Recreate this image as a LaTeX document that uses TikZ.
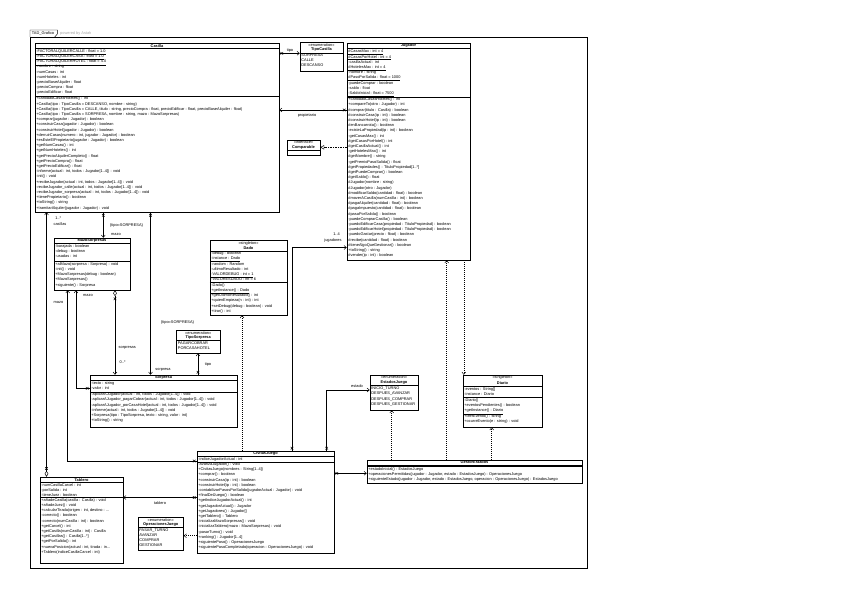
\documentclass[tikz,border=0pt]{standalone}
\usepackage{fontspec}
\setmainfont{Liberation Sans}
\usetikzlibrary{arrows.meta,fit,shadows,calc}
\newcommand\umltxt{\fontsize{3.9}{5.2}\selectfont\lineskiplimit=-10pt\relax}
\tikzset{
  box/.style={draw=black, line width=0.45pt, fill=white, inner sep=0pt,
    drop shadow={shadow xshift=0.9pt, shadow yshift=-0.9pt, fill=black!45, opacity=1}},
  txt/.style={inner sep=0pt, font=\umltxt, align=left, anchor=north west},
  ttl/.style={inner sep=0pt, font=\fontsize{3.9}{5.2}\selectfont\bfseries},
  ster/.style={inner sep=0pt, font=\fontsize{3.9}{5.2}\selectfont},
  lbl/.style={inner sep=0pt, font=\fontsize{3.9}{5.2}\selectfont},
  sep/.style={line width=0.4pt},
  assoc/.style={line width=0.45pt},
  nav/.style={-{Straight Barb[length=2.4pt,width=3.8pt]}},
  dep/.style={line width=0.45pt, dash pattern=on 1pt off 1pt, -{Straight Barb[length=2.4pt,width=3.8pt]}},
  real/.style={line width=0.45pt, dash pattern=on 1.5pt off 1pt, -{Triangle[open,length=4pt,width=4.4pt]}},
  aggr/.style={{Diamond[open,length=6pt,width=3.6pt]}-{Straight Barb[length=2.4pt,width=3.8pt]}},
  xm/.style={line width=0.45pt},
}
\newcommand\umlx[1]{\draw[xm] ($(#1)+(-1.3,-1.3)$) -- ($(#1)+(1.3,1.3)$) ($(#1)+(-1.3,1.3)$) -- ($(#1)+(1.3,-1.3)$);}
\begin{document}
\begin{tikzpicture}[x=1pt,y=-1pt]
\useasboundingbox (0,0) rectangle (848,599);
% frame
\draw[line width=0.45pt] (30,37) rectangle (587,568);
\draw[line width=0.45pt] (30,37) -- (30,30) -- (57.3,30) -- (57.3,34) -- (54.5,37.3);
\node[lbl] (tab) at (43,33.6) {TAD\_Grafico};
\node[lbl, text=black!35, anchor=west] (astah) at (60,33.6) {powered by Astah};

% ---------------- Casilla
\node[box, fit={(35,43)(279,212)}] (casilla) {};
\node[ttl] (casT) at (157,45.8) {Casilla};
\draw[sep] (casilla.west |- 0,48.5) -- (casilla.east |- 0,48.5);
\node[txt] (casA) at (36.2,49.3) {\underline{-FACTORALQUILERCALLE : float = 1.0}\\
\underline{-FACTORALQUILERCASA : float = 1.0}\\
\underline{-FACTORALQUILERHOTEL : float = 4.0}\\
-nombre : string\\
-numCasas : int\\
-numHoteles : int\\
-precioBaseAlquiler : float\\
-precioCompra : float\\
-precioEdificar : float};
\draw[sep] (casilla.west |- 0,96) -- (casilla.east |- 0,96);
\node[txt] (casM) at (36.2,96.8) {+cantidadCasasHoteles() : int\\
+Casilla(tipo : TipoCasilla = DESCANSO, nombre : string)\\
+Casilla(tipo : TipoCasilla = CALLE, titulo : string, precioCompra : float, precioEdificar : float, precioBaseAlquiler : float)\\
+Casilla(tipo : TipoCasilla = SORPRESA, nombre : string, mazo : MazoSorpresas)\\
+comprar(jugador : Jugador) : boolean\\
+construirCasa(jugador : Jugador) : boolean\\
+construirHotel(jugador : Jugador) : boolean\\
+derruirCasas(numero : int, jugador : Jugador) : boolean\\
+esEsteElPropietario(jugador : Jugador) : boolean\\
+getNumCasas() : int\\
+getNumHoteles() : int\\
+getPrecioAlquilerCompleto() : float\\
+getPrecioCompra() : float\\
+getPrecioEdificar() : float\\
-informe(actual : int, todos : Jugador[1..4]) : void\\
-init() : void\\
+recibeJugador(actual : int, todos : Jugador[1..4]) : void\\
-recibeJugador\_calle(actual : int, todos : Jugador[1..4]) : void\\
-recibeJugador\_sorpresa(actual : int, todos : Jugador[1..4]) : void\\
+tienePropietario() : boolean\\
+toString() : string\\
+tramitarAlquiler(jugador : Jugador) : void};

% ---------------- TipoCasilla
\node[box, fit={(300,42)(343,71.5)}] (tipocasilla) {};
\node[ster] (tcS) at (321.5,44.8) {«enumeration»};
\node[ttl] (tcT) at (321.5,49.6) {TipoCasilla};
\draw[sep] (tipocasilla.west |- 0,52.8) -- (tipocasilla.east |- 0,52.8);
\node[txt] (tcI) at (301.2,53.6) {SORPRESA\\CALLE\\DESCANSO};

% ---------------- Comparable
\node[box, fit={(287,140)(320,155)}] (comparable) {};
\node[ster] (cmS) at (303.5,142.4) {«interface»};
\node[ttl] (cmT) at (303.5,147.3) {Comparable};
\draw[sep] (comparable.west |- 0,150.2) -- (comparable.east |- 0,150.2);

% ---------------- Jugador
\node[box, fit={(347,43)(470,260)}] (jugador) {};
\node[ttl] (jugT) at (408.5,45.8) {Jugador};
\draw[sep] (jugador.west |- 0,48.5) -- (jugador.east |- 0,48.5);
\node[txt] (jugA) at (348.2,49.8) {\underline{\#CasasMax : int = 4}\\
\underline{\#CasasPorHotel : int = 4}\\
-casillaActual : int\\
\underline{\#HotelesMax : int = 4}\\
-nombre : string\\
\underline{\#PasoPorSalida : float = 1000}\\
-puedeComprar : boolean\\
-saldo : float\\
\underline{-SaldoInicial : float = 7500}};
\draw[sep] (jugador.west |- 0,97) -- (jugador.east |- 0,97);
\node[txt] (jugM) at (348.2,97.6) {+cantidadCasasHoteles() : int\\
+compareTo(otro : Jugador) : int\\
\#comprar(titulo : Casilla) : boolean\\
\#construirCasa(ip : int) : boolean\\
\#construirHotel(ip : int) : boolean\\
\#enBancarrota() : boolean\\
-existeLaPropiedad(ip : int) : boolean\\
-getCasasMax() : int\\
\#getCasasPorHotel() : int\\
\#getCasillaActual() : int\\
-getHotelesMax() : int\\
\#getNombre() : string\\
-getPremioPasoSalida() : float\\
\#getPropiedades() : TituloPropiedad[1..*]\\
\#getPuedeComprar() : boolean\\
\#getSaldo() : float\\
\#Jugador(nombre : string)\\
\#Jugador(otro : Jugador)\\
\#modificarSaldo(cantidad : float) : boolean\\
\#moverACasilla(numCasilla : int) : boolean\\
\#pagaAlquiler(cantidad : float) : boolean\\
\#pagaImpuesto(cantidad : float) : boolean\\
\#pasaPorSalida() : boolean\\
-puedeComprarCasilla() : boolean\\
-puedoEdificarCasa(propiedad : TituloPropiedad) : boolean\\
-puedoEdificarHotel(propiedad : TituloPropiedad) : boolean\\
-puedoGastar(precio : float) : boolean\\
\#recibe(cantidad : float) : boolean\\
\#tieneAlgoQueGestionar() : boolean\\
+toString() : string\\
\#vender(ip : int) : boolean};

% ---------------- MazoSorpresas
\node[box, fit={(54,238)(130,290)}] (mazo) {};
\node[ttl] (mzT) at (92,240.8) {MazoSorpresas};
\draw[sep] (mazo.west |- 0,243.5) -- (mazo.east |- 0,243.5);
\node[txt] (mzA) at (55.2,244.3) {-barajada : boolean\\-debug : boolean\\-usadas : int};
\draw[sep] (mazo.west |- 0,261.5) -- (mazo.east |- 0,261.5);
\node[txt] (mzM) at (55.2,262.3) {+alMazo(sorpresa : Sorpresa) : void\\
-init() : void\\
+MazoSorpresas(debug : boolean)\\
+MazoSorpresas()\\
+siguiente() : Sorpresa};

% ---------------- Dado
\node[box, fit={(210,240.5)(287,315)}] (dado) {};
\node[ster] (dS) at (248.5,243.2) {«singleton»};
\node[ttl] (dT) at (248.5,248) {Dado};
\draw[sep] (dado.west |- 0,250.9) -- (dado.east |- 0,250.9);
\node[txt] (dA) at (211.2,251.7) {-debug : boolean\\
\underline{-instance : Dado}\\
-random : Random\\
-ultimoResultado : int\\
\underline{-VALORDEBUG : int = 1}\\
\underline{-VALORESDADO : int = 6}};
\draw[sep] (dado.west |- 0,282.4) -- (dado.east |- 0,282.4);
\node[txt] (dM) at (211.2,283.2) {-Dado()\\
\underline{+getInstance() : Dado}\\
+getUltimoResultado() : int\\
+quienEmpieza(n : int) : int\\
+setDebug(debug : boolean) : void\\
+tirar() : int};

% ---------------- TipoSorpresa
\node[box, fit={(176.5,330)(220,353)}] (tiposorpresa) {};
\node[ster] (tsS) at (198.25,332.7) {«enumeration»};
\node[ttl] (tsT) at (198.25,337.6) {TipoSorpresa};
\draw[sep] (tiposorpresa.west |- 0,340.5) -- (tiposorpresa.east |- 0,340.5);
\node[txt] (tsI) at (177.7,341.3) {PAGARCOBRAR\\PORCASAHOTEL};

% ---------------- Sorpresa
\node[box, fit={(90,375)(237,427)}] (sorpresa) {};
\node[ttl] (sT) at (163.5,377.8) {Sorpresa};
\draw[sep] (sorpresa.west |- 0,380.5) -- (sorpresa.east |- 0,380.5);
\node[txt] (sA) at (91.2,381.5) {-texto : string\\-valor : int};
\draw[sep] (sorpresa.west |- 0,391.8) -- (sorpresa.east |- 0,391.8);
\node[txt] (sM) at (91.2,392.6) {-aplicarAJugador(actual : int, todos : Jugador[1..4]) : void\\
-aplicarAJugador\_pagarCobrar(actual : int, todos : Jugador[1..4]) : void\\
-aplicarAJugador\_porCasaHotel(actual : int, todos : Jugador[1..4]) : void\\
-informe(actual : int, todos : Jugador[1..4]) : void\\
+Sorpresa(tipo : TipoSorpresa, texto : string, valor : int)\\
+toString() : string};

% ---------------- EstadosJuego
\node[box, fit={(370,375)(418,410)}] (estados) {};
\node[ster] (eS) at (394,377.6) {«enumeration»};
\node[ttl] (eT) at (394,382.6) {EstadosJuego};
\draw[sep] (estados.west |- 0,385.6) -- (estados.east |- 0,385.6);
\node[txt] (eI) at (371.2,386.8) {INICIO\_TURNO\\DESPUES\_AVANZAR\\DESPUES\_COMPRAR\\DESPUES\_GESTIONAR};

% ---------------- Diario
\node[box, fit={(463,375)(542,427)}] (diario) {};
\node[ster] (diS) at (502.5,377.6) {«singleton»};
\node[ttl] (diT) at (502.5,382.7) {Diario};
\draw[sep] (diario.west |- 0,386.3) -- (diario.east |- 0,386.3);
\node[txt] (diA) at (464.2,387.3) {-eventos : String[]\\\underline{-instance : Diario}};
\draw[sep] (diario.west |- 0,397.6) -- (diario.east |- 0,397.6);
\node[txt] (diM) at (464.2,398.5) {-Diario()\\
+eventosPendientes() : boolean\\
\underline{+getInstance() : Diario}\\
+leerEvento() : string\\
+ocurreEvento(e : string) : void};

% ---------------- GestorEstados
\node[box, fit={(367,460)(582,483)}] (gestor) {};
\node[ttl] (gT) at (474.5,462.6) {GestorEstados};
\draw[sep] (gestor.west |- 0,465.2) -- (gestor.east |- 0,465.2);
\draw[sep] (gestor.west |- 0,466.6) -- (gestor.east |- 0,466.6);
\node[txt] (gM) at (368.2,467.2) {+estadoInicial() : EstadosJuego\\
+operacionesPermitidas(jugador : Jugador, estado : EstadosJuego) : OperacionesJuego\\
+siguienteEstado(jugador : Jugador, estado : EstadosJuego, operacion : OperacionesJuego) : EstadosJuego};

% ---------------- CivitasJuego
\node[box, fit={(197,451)(334,553)}] (civitas) {};
\node[ttl] (cjT) at (265.5,453.7) {CivitasJuego};
\draw[sep] (civitas.west |- 0,456.3) -- (civitas.east |- 0,456.3);
\node[txt] (cjA) at (198.2,457) {-indiceJugadorActual : int};
\draw[sep] (civitas.west |- 0,461.7) -- (civitas.east |- 0,461.7);
\node[txt] (cjM) at (198.2,462.5) {-avanzaJugador() : void\\
+CivitasJuego(nombres : String[1..4])\\
+comprar() : boolean\\
+construirCasa(ip : int) : boolean\\
+construirHotel(ip : int) : boolean\\
-contabilizarPasosPorSalida(jugadorActual : Jugador) : void\\
+finalDelJuego() : boolean\\
+getIndiceJugadorActual() : int\\
+getJugadorActual() : Jugador\\
+getJugadores() : Jugador[]\\
+getTablero() : Tablero\\
-inicializaMazoSorpresas() : void\\
-inicializaTablero(mazo : MazoSorpresas) : void\\
-pasarTurno() : void\\
+ranking() : Jugador[1..4]\\
+siguientePaso() : OperacionesJuego\\
+siguientePasoCompletado(operacion : OperacionesJuego) : void};

% ---------------- Tablero
\node[box, fit={(40,477)(123,563)}] (tablero) {};
\node[ttl] (tbT) at (81.5,479.7) {Tablero};
\draw[sep] (tablero.west |- 0,482.3) -- (tablero.east |- 0,482.3);
\node[txt] (tbA) at (41.2,483) {-numCasillaCarcel : int\\-porSalida : int\\-tieneJuez : boolean};
\draw[sep] (tablero.west |- 0,497.5) -- (tablero.east |- 0,497.5);
\node[txt] (tbM) at (41.2,498.3) {+añadeCasilla(casilla : Casilla) : void\\
+añadeJuez() : void\\
+calcularTirada(origen : int, destino : ...\\
-correcto() : boolean\\
-correcto(numCasilla : int) : boolean\\
+getCarcel() : int\\
+getCasilla(numCasilla : int) : Casilla\\
+getCasillas() : Casilla[1..*]\\
+getPorSalida() : int\\
+nuevaPosicion(actual : int, tirada : in...\\
+Tablero(indiceCasillaCarcel : int)};

% ---------------- OperacionesJuego
\node[box, fit={(138,517)(183.5,550)}] (operaciones) {};
\node[ster] (oS) at (160.75,519.7) {«enumeration»};
\node[ttl] (oT) at (160.75,524.5) {OperacionesJuego};
\draw[sep] (operaciones.west |- 0,527.3) -- (operaciones.east |- 0,527.3);
\node[txt] (oI) at (139.2,528.1) {PASAR\_TURNO\\AVANZAR\\COMPRAR\\GESTIONAR};

% ================= connectors
\draw[assoc,nav] (casilla.east |- 0,53.3) -- (tipocasilla.west |- 0,53.3);
\umlx{281.8,53.3}
\node[lbl] (l1) at (290,50.4) {tipo};
\draw[assoc,nav] (jugador.west |- 0,110) -- (casilla.east |- 0,110);
\umlx{344.2,110}
\node[lbl] (l2) at (307,115.8) {propietario};
\draw[real] (jugador.west |- 0,147.3) -- (comparable.east |- 0,147.3);
\draw[assoc,aggr] (tablero.north -| 46.5,0) -- (casilla.south -| 46.5,0);
\umlx{46.5,468.5}
\node[lbl] (l3) at (58.3,218.3) {1..*};
\node[lbl] (l4) at (60,224) {casillas};
\draw[assoc,nav] (casilla.south -| 103.3,0) -- (mazo.north -| 103.3,0);
\umlx{103.3,215.3}
\node[lbl] (l5) at (126.5,225) {\{tipo=SORPRESA\}};
\node[lbl] (l6) at (116,234) {mazo};
\draw[assoc,nav] (casilla.south -| 150.5,0) -- (sorpresa.north -| 150.5,0);
\umlx{150.5,215.3}
\node[lbl] (l7) at (177.5,322) {\{tipo=SORPRESA\}};
\node[lbl] (l8) at (163,370) {sorpresa};
\draw[assoc,aggr] (mazo.south -| 115,0) -- (sorpresa.north -| 115,0);
\umlx{115,298.8}
\node[lbl, anchor=west] (l9) at (118.5,348) {sorpresas};
\node[lbl, anchor=west] (l10) at (119.5,362) {0..*};
\draw[assoc,nav] (sorpresa.west |- 0,388.3) -- (76,388.3) -- (mazo.south -| 76,0);
\umlx{87.2,388.3}
\node[lbl] (l11) at (88,295) {mazo};
\draw[assoc,nav] (civitas.west |- 0,461) -- (67.7,461) -- (mazo.south -| 67.7,0);
\umlx{194.2,461}
\node[lbl] (l12) at (58.5,302) {mazo};
\draw[assoc,nav] (civitas.west |- 0,497.5) -- (tablero.east |- 0,497.5);
\umlx{194.2,497.5}
\node[lbl] (l13) at (160,503) {tablero};
\draw[dep] (civitas.west |- 0,535.7) -- (operaciones.east |- 0,535.7);
\draw[dep] (civitas.north -| 242,0) -- (dado.south -| 242,0);
\draw[assoc,nav] (sorpresa.north -| 198,0) -- (tiposorpresa.south -| 198,0);
\umlx{198,372.3}
\node[lbl] (l14) at (208,364) {tipo};
\draw[assoc,nav] (civitas.north -| 292,0) -- (292,247.5) -- (jugador.west |- 0,247.5);
\umlx{292,448.2}
\node[lbl] (l15) at (336.5,234) {1..4};
\node[lbl] (l16) at (333,240.5) {jugadores};
\draw[assoc,nav] (civitas.north -| 326.7,0) -- (326.7,390) -- (estados.west |- 0,390);
\umlx{326.7,448.2}
\node[lbl] (l17) at (357,386.3) {estado};
\draw[assoc,nav] (civitas.east |- 0,473.3) -- (gestor.west |- 0,473.3);
\umlx{336.8,473.3}
\draw[dep] (gestor.north -| 391.7,0) -- (estados.south -| 391.7,0);
\draw[dep] (gestor.north -| 446.7,0) -- (jugador.south -| 446.7,0);
\draw[dep] (gestor.north -| 491.7,0) -- (diario.south -| 491.7,0);
\draw[dep] (jugador.south -| 463.8,0) -- (diario.north -| 463.8,0);
\end{tikzpicture}
\end{document}
